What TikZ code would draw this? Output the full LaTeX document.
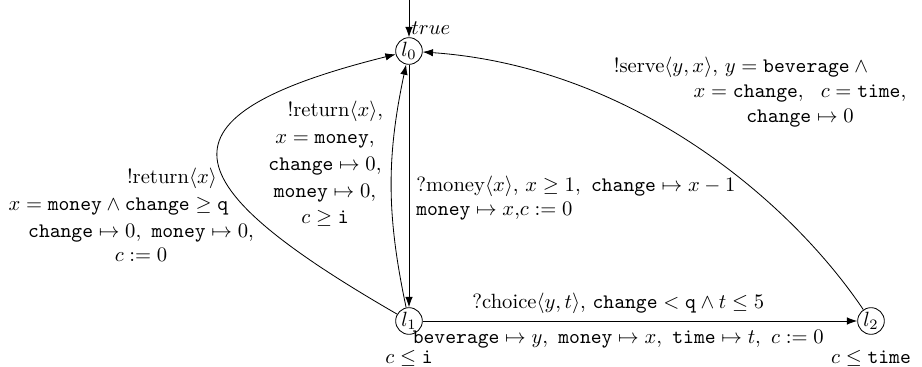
\documentclass[tikz,border=0pt]{standalone}
\usepackage{amsmath,amssymb}
\usetikzlibrary{arrows.meta,positioning}

\begin{document}
\begin{tikzpicture}[x=0.485pt, y=0.485pt,
  loc/.style={draw, circle, inner sep=0.6pt},
  lbl/.style={align=center},
  arr/.style={-{Latex[length=5pt,width=3.6pt]}}
]
\useasboundingbox (-409,-46) rectangle (513,321);

\node[loc] (l0) at (0,270) {$l_0$};
\node[loc] (l1) at (0,0) {$l_1$};
\node[loc] (l2) at (462,0) {$l_2$};
\coordinate (init) at (0,321);

\node[below=4pt of l1] (inv1) {$c \leq \mathtt{i}$};
\node[below=4pt of l2] (inv2) {$c \leq \mathtt{time}$};

\draw[arr] (init) -- node[pos=0.75, right, inner sep=1pt] {$true$} (l0);

\draw[arr] (l0) -- node[pos=0.55, right, align=left]
  {?money$\langle x\rangle$,\ $x \geq 1,\ \mathtt{change} \mapsto x-1$\\
   $\mathtt{money} \mapsto x$,$c := 0$} (l1);

\draw[arr] (l1) to[bend left=12] (l0);
\node[lbl] (ret1) at (-84,157)
  {\hspace*{10pt}!return$\langle x\rangle$,\\[1pt] $x = \mathtt{money}$,\\[1pt] $\mathtt{change} \mapsto 0$,\\[1pt]
   $\mathtt{money} \mapsto 0$,\\[1pt] $c \geq \mathtt{i}$};

\draw[arr] (l1) .. controls +(150:275) and +(194:270) .. (l0);
\node[lbl] (ret2) at (-268,106)
  {\hspace*{30pt}!return$\langle x\rangle$\\[1pt] \hspace*{-22pt}$x = \mathtt{money} \wedge \mathtt{change} \geq \mathtt{q}$\\[1pt]
   $\mathtt{change} \mapsto 0,\ \mathtt{money} \mapsto 0$,\\ $c := 0$};

\draw[arr] (l1) -- node[pos=0.45, above]
  {?choice$\langle y,t\rangle$,\ $\mathtt{change} < \mathtt{q} \wedge t \leq 5$}
  node[pos=0.45, below, yshift=-1pt]
  {$\mathtt{beverage} \mapsto y,\ \mathtt{money} \mapsto x,\ \mathtt{time} \mapsto t,\ c := 0$} (l2);

\draw[arr] (l2) .. controls +(124:150) and +(-4:220) .. (l0);
\node[lbl] (serve) at (391,229)
  {!serve$\langle y,x\rangle$, $y = \mathtt{beverage} \wedge{}$\hspace*{55pt}\\
   $x = \mathtt{change},\ \ c = \mathtt{time}$,\\ $\mathtt{change} \mapsto 0$};

\end{tikzpicture}
\end{document}
